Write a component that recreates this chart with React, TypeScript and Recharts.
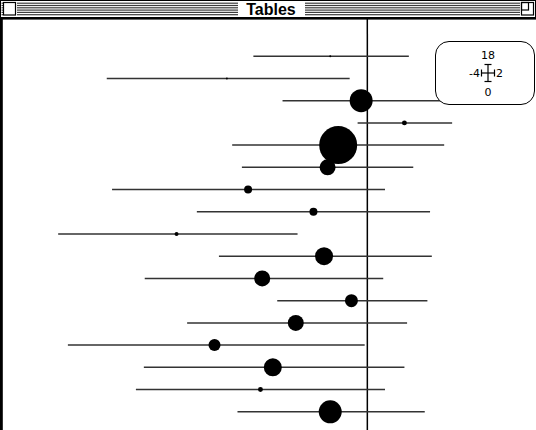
import React from 'react';
import { ScatterChart, Scatter, ErrorBar, XAxis, YAxis, ZAxis, ReferenceLine } from 'recharts';

// Study rows, top to bottom
const rows = [1, 2, 3, 4, 5, 6, 7, 8, 9, 10, 11, 12, 13, 14, 15, 16, 17];
// Point estimates
const estimates = [-0.42, -1.59, -0.07, 0.42, -0.33, -0.45, -1.35, -0.61, -2.16, -0.49, -1.19, -0.18, -0.81, -1.73, -1.07, -1.21, -0.42];
// Lower interval limits
const lower = [-1.29, -2.95, -0.96, -0.11, -1.53, -1.42, -2.89, -1.93, -3.5, -1.68, -2.52, -1.02, -2.04, -3.39, -2.53, -2.62, -1.47];
// Upper interval limits
const upper = [0.47, -0.2, 0.9, 0.96, 0.87, 0.52, 0.2, 0.71, -0.79, 0.73, 0.18, 0.68, 0.45, -0.03, 0.42, 0.2, 0.65];
// Study weights (marker area)
const weights = [1, 1, 132, 6, 361, 64, 16, 16, 4, 81, 64, 42, 64, 36, 81, 6, 132];
// Axis range indicator labels
const xRange = [-4, 2];
const yRange = [0, 18];
const title = 'Tables';

const data = rows.map((r, i) => ({
  row: r,
  est: estimates[i],
  err: [estimates[i] - lower[i], upper[i] - estimates[i]],
  w: weights[i],
}));

const stripeYs = [2.6, 4.9, 7.2, 9.5, 11.8, 14.1];

function Stripes({ x1, x2 }: { x1: number; x2: number }) {
  return (
    <g>
      {stripeYs.map((y) => (
        <rect key={y} x={x1} y={y} width={x2 - x1} height={1.2} fill="#3c3c3c" />
      ))}
    </g>
  );
}

export default function App() {
  return (
    <div
      style={{
        position: 'fixed',
        left: 0,
        top: 0,
        width: 536,
        height: 430,
        overflow: 'hidden',
        background: '#fff',
      }}
    >
      <svg width={536} height={430} style={{ position: 'absolute', left: 0, top: 0 }}>
        {/* title bar */}
        <rect x={0} y={0} width={536} height={1} fill="#000" />
        <rect x={0} y={0} width={1} height={18} fill="#000" />
        <Stripes x1={1.5} x2={3} />
        <rect x={3.5} y={2.5} width={12} height={12.5} fill="#fff" stroke="#000" strokeWidth={1.2} />
        <Stripes x1={17} x2={238} />
        <text
          x={271}
          y={14.5}
          textAnchor="middle"
          fontFamily="'Liberation Sans', Arial, sans-serif"
          fontWeight="bold"
          fontSize={16}
          fill="#000"
        >
          {title}
        </text>
        <Stripes x1={305} x2={520} />
        <rect x={521.5} y={2.5} width={12} height={12.5} fill="#fff" stroke="#000" strokeWidth={1.2} />
        <rect x={521.5} y={2.5} width={7} height={7.5} fill="none" stroke="#000" strokeWidth={1.2} />
        <rect x={535} y={0} width={1} height={18} fill="#000" />
        <rect x={0} y={17} width={536} height={2.6} fill="#000" />
        {/* content left border */}
        <rect x={0} y={17} width={2.8} height={413} fill="#000" />
      </svg>

      <div style={{ position: 'absolute', left: 14, top: 34 }}>
        <ScatterChart width={530} height={400} margin={{ top: 0, right: 0, bottom: 0, left: 0 }}>
          <XAxis type="number" dataKey="est" domain={xRange} hide allowDataOverflow />
          <YAxis type="number" dataKey="row" domain={yRange} reversed hide allowDataOverflow />
          <ZAxis type="number" dataKey="w" domain={[0, 361]} range={[0, Math.PI * 361]} />
          <ReferenceLine x={0} stroke="#000" strokeWidth={1.5} ifOverflow="extendDomain" />
          <Scatter data={data} fill="#000" isAnimationActive={false}>
            <ErrorBar dataKey="err" direction="x" width={0} stroke="#333" strokeWidth={1.5} />
          </Scatter>
        </ScatterChart>
      </div>
      {/* reference line continues up to the title bar */}
      <svg width={536} height={20} style={{ position: 'absolute', left: 0, top: 19 }}>
        <line x1={367.3} y1={0} x2={367.3} y2={15} stroke="#000" strokeWidth={1.5} />
      </svg>

      <div
        style={{
          position: 'absolute',
          left: 435,
          top: 41,
          width: 100,
          height: 64,
          boxSizing: 'border-box',
          border: '1.2px solid #000',
          borderRadius: 14,
          background: '#fff',
        }}
      >
        <svg width={100} height={64} style={{ position: 'absolute', left: -1, top: -1 }}>
          <g fontFamily="'DejaVu Sans', sans-serif" fontSize={11} fill="#000">
            <text x={53} y={18} textAnchor="middle">{String(yRange[1])}</text>
            <text x={45} y={36} textAnchor="end">{String(xRange[0])}</text>
            <text x={61} y={36} textAnchor="start">{String(xRange[1])}</text>
            <text x={53} y={55} textAnchor="middle">{String(yRange[0])}</text>
          </g>
          <g stroke="#000" strokeWidth={1.2}>
            <line x1={53} y1={23.5} x2={53} y2={40.5} />
            <line x1={49.5} y1={23.5} x2={56.5} y2={23.5} />
            <line x1={49.5} y1={40.5} x2={56.5} y2={40.5} />
            <line x1={46.5} y1={32} x2={59.5} y2={32} />
            <line x1={46.5} y1={28.5} x2={46.5} y2={35.5} />
            <line x1={59.5} y1={28.5} x2={59.5} y2={35.5} />
          </g>
        </svg>
      </div>
    </div>
  );
}
